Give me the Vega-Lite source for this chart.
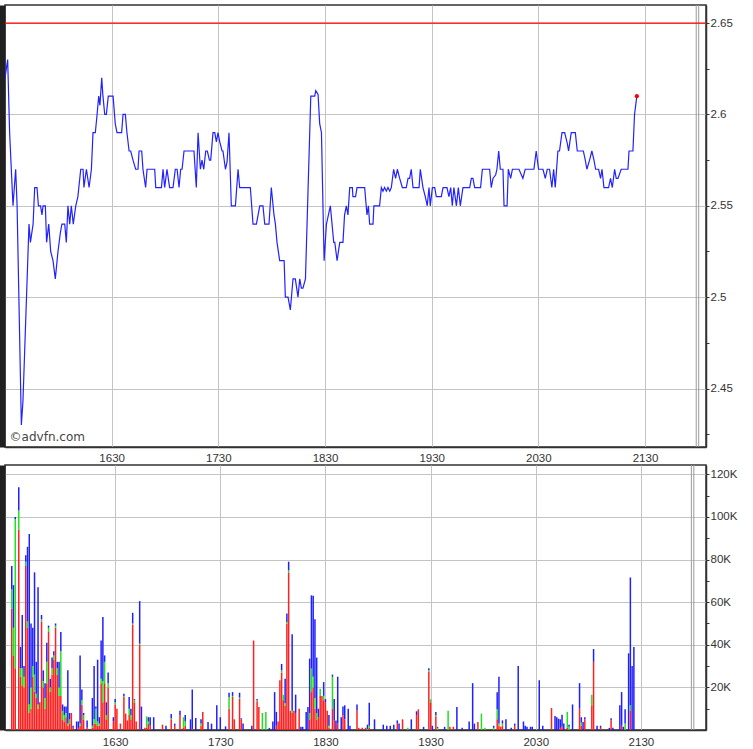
{
  "$schema": "https://vega.github.io/schema/vega-lite/v6.json",
  "background": "white",
  "padding": {"left": 0, "top": 3, "right": 0, "bottom": 0},
  "autosize": {"type": "pad"},
  "bounds": "flush",
  "spacing": 18,
  "config": {
    "view": {"stroke": "#333333", "strokeWidth": 1.5},
    "axis": {"labelFont": "Liberation Sans", "labelFontSize": 11.5, "labelColor": "#333333", "gridColor": "#c4c4c4", "domainColor": "#333333", "domainWidth": 1.5, "tickColor": "#333333", "title": null}
  },
  "datasets": {
    "price": [
      {"t":930.0,"p":2.62},{"t":931.5,"p":2.63},{"t":932.6,"p":2.59},{"t":934.5,"p":2.55},{"t":936.0,"p":2.57},{"t":936.8,"p":2.55},{"t":939.2,"p":2.43},{"t":940.1,"p":2.443},{"t":943.5,"p":2.54},{"t":944.3,"p":2.53},{"t":945.8,"p":2.54},{"t":946.7,"p":2.56},{"t":948.0,"p":2.56},{"t":948.8,"p":2.55},{"t":950.0,"p":2.55},{"t":950.8,"p":2.545},{"t":951.4,"p":2.55},{"t":952.7,"p":2.55},{"t":953.4,"p":2.53},{"t":954.6,"p":2.54},{"t":955.7,"p":2.525},{"t":957.0,"p":2.52},{"t":958.3,"p":2.51},{"t":959.8,"p":2.525},{"t":961.1,"p":2.535},{"t":962.0,"p":2.54},{"t":963.6,"p":2.54},{"t":964.5,"p":2.53},{"t":965.4,"p":2.55},{"t":966.4,"p":2.54},{"t":967.3,"p":2.55},{"t":968.4,"p":2.54},{"t":969.8,"p":2.55},{"t":971.0,"p":2.555},{"t":972.6,"p":2.57},{"t":973.9,"p":2.57},{"t":974.4,"p":2.56},{"t":975.8,"p":2.57},{"t":977.3,"p":2.56},{"t":978.6,"p":2.57},{"t":979.5,"p":2.59},{"t":980.8,"p":2.59},{"t":981.8,"p":2.6},{"t":982.7,"p":2.61},{"t":983.4,"p":2.605},{"t":984.4,"p":2.62},{"t":985.1,"p":2.61},{"t":986.1,"p":2.6},{"t":987.0,"p":2.6},{"t":988.1,"p":2.61},{"t":990.8,"p":2.61},{"t":992.0,"p":2.595},{"t":993.0,"p":2.59},{"t":995.6,"p":2.59},{"t":996.4,"p":2.6},{"t":997.7,"p":2.6},{"t":998.6,"p":2.59},{"t":999.8,"p":2.58},{"t":1000.7,"p":2.58},{"t":1002.0,"p":2.575},{"t":1003.5,"p":2.57},{"t":1004.8,"p":2.57},{"t":1005.4,"p":2.58},{"t":1006.9,"p":2.58},{"t":1007.6,"p":2.57},{"t":1009.1,"p":2.56},{"t":1009.9,"p":2.57},{"t":1014.2,"p":2.57},{"t":1014.8,"p":2.56},{"t":1018.0,"p":2.56},{"t":1018.9,"p":2.57},{"t":1019.8,"p":2.56},{"t":1021.1,"p":2.57},{"t":1022.6,"p":2.56},{"t":1024.5,"p":2.56},
      {"t":1025.8,"p":2.57},{"t":1026.8,"p":2.57},{"t":1027.9,"p":2.56},{"t":1028.8,"p":2.57},{"t":1029.6,"p":2.57},{"t":1030.7,"p":2.58},{"t":1036.3,"p":2.58},{"t":1037.6,"p":2.56},{"t":1038.6,"p":2.59},{"t":1039.9,"p":2.57},{"t":1040.8,"p":2.575},{"t":1041.8,"p":2.57},{"t":1042.9,"p":2.58},{"t":1043.8,"p":2.58},{"t":1045.0,"p":2.575},{"t":1045.7,"p":2.575},{"t":1047.0,"p":2.59},{"t":1048.0,"p":2.59},{"t":1048.9,"p":2.585},{"t":1049.8,"p":2.59},{"t":1050.8,"p":2.585},{"t":1052.1,"p":2.58},{"t":1052.6,"p":2.58},{"t":1054.0,"p":2.57},{"t":1054.9,"p":2.574},{"t":1056.0,"p":2.59},{"t":1057.3,"p":2.55},{"t":1059.6,"p":2.55},{"t":1061.1,"p":2.57},{"t":1062.0,"p":2.56},{"t":1068.0,"p":2.56},{"t":1069.5,"p":2.54},{"t":1071.4,"p":2.54},{"t":1073.3,"p":2.55},{"t":1075.1,"p":2.55},{"t":1076.1,"p":2.54},{"t":1078.5,"p":2.54},{"t":1079.8,"p":2.56},{"t":1081.3,"p":2.545},{"t":1082.1,"p":2.54},{"t":1083.0,"p":2.53},{"t":1084.5,"p":2.52},{"t":1087.0,"p":2.52},{"t":1087.7,"p":2.5},{"t":1089.2,"p":2.5},{"t":1090.5,"p":2.493},{"t":1092.0,"p":2.51},{"t":1093.3,"p":2.51},{"t":1094.8,"p":2.5},{"t":1095.8,"p":2.51},{"t":1096.7,"p":2.505},{"t":1097.6,"p":2.505},{"t":1099.0,"p":2.51},{"t":1102.0,"p":2.61},{"t":1104.2,"p":2.61},{"t":1104.8,"p":2.613},{"t":1106.1,"p":2.611},{"t":1107.0,"p":2.595},{"t":1108.0,"p":2.59},{"t":1109.5,"p":2.52},{"t":1110.8,"p":2.54},{"t":1113.0,"p":2.55},{"t":1114.9,"p":2.53},{"t":1115.5,"p":2.53},{"t":1116.8,"p":2.52},{"t":1118.3,"p":2.53},{"t":1120.1,"p":2.53},
      {"t":1121.0,"p":2.545},{"t":1122.0,"p":2.55},{"t":1122.9,"p":2.545},{"t":1123.9,"p":2.56},{"t":1125.4,"p":2.56},{"t":1125.7,"p":2.555},{"t":1127.2,"p":2.555},{"t":1128.0,"p":2.56},{"t":1132.3,"p":2.56},{"t":1133.6,"p":2.545},{"t":1134.4,"p":2.55},{"t":1135.1,"p":2.54},{"t":1137.0,"p":2.54},{"t":1137.5,"p":2.55},{"t":1140.7,"p":2.55},{"t":1141.7,"p":2.56},{"t":1142.6,"p":2.558},{"t":1143.5,"p":2.56},{"t":1144.5,"p":2.558},{"t":1145.4,"p":2.56},{"t":1146.4,"p":2.558},{"t":1147.3,"p":2.56},{"t":1148.6,"p":2.57},{"t":1149.7,"p":2.565},{"t":1150.7,"p":2.57},{"t":1152.0,"p":2.565},{"t":1153.5,"p":2.56},{"t":1155.7,"p":2.56},{"t":1156.7,"p":2.565},{"t":1157.6,"p":2.565},{"t":1158.5,"p":2.57},{"t":1159.5,"p":2.56},{"t":1160.4,"p":2.56},{"t":1162.9,"p":2.56},{"t":1163.6,"p":2.57},{"t":1165.1,"p":2.56},{"t":1166.4,"p":2.555},{"t":1167.5,"p":2.55},{"t":1168.5,"p":2.56},{"t":1169.2,"p":2.55},{"t":1170.4,"p":2.56},{"t":1171.7,"p":2.56},{"t":1172.6,"p":2.555},{"t":1175.4,"p":2.555},{"t":1176.4,"p":2.56},{"t":1178.6,"p":2.56},{"t":1179.7,"p":2.555},{"t":1180.7,"p":2.56},{"t":1181.6,"p":2.55},{"t":1182.5,"p":2.56},{"t":1183.9,"p":2.55},{"t":1185.0,"p":2.56},{"t":1186.1,"p":2.55},{"t":1187.6,"p":2.56},{"t":1191.4,"p":2.56},{"t":1192.3,"p":2.565},{"t":1193.2,"p":2.565},{"t":1194.2,"p":2.56},{"t":1197.5,"p":2.56},{"t":1198.5,"p":2.57},{"t":1202.6,"p":2.57},{"t":1203.5,"p":2.56},{"t":1204.5,"p":2.565},{"t":1206.0,"p":2.567},{"t":1206.7,"p":2.57},{"t":1207.7,"p":2.58},{"t":1208.6,"p":2.57},{"t":1210.1,"p":2.57},{"t":1210.7,"p":2.55},{"t":1212.4,"p":2.55},{"t":1213.1,"p":2.57},{"t":1214.4,"p":2.565},{"t":1215.4,"p":2.57},{"t":1219.1,"p":2.57},
      {"t":1221.3,"p":2.565},{"t":1222.6,"p":2.57},{"t":1227.5,"p":2.57},{"t":1228.8,"p":2.58},{"t":1230.1,"p":2.57},{"t":1232.6,"p":2.57},{"t":1233.9,"p":2.565},{"t":1235.0,"p":2.57},{"t":1236.3,"p":2.57},{"t":1237.6,"p":2.56},{"t":1238.6,"p":2.57},{"t":1239.5,"p":2.56},{"t":1241.0,"p":2.58},{"t":1241.9,"p":2.58},{"t":1243.3,"p":2.59},{"t":1244.8,"p":2.59},{"t":1246.3,"p":2.584},{"t":1247.0,"p":2.58},{"t":1248.5,"p":2.59},{"t":1250.8,"p":2.59},{"t":1251.9,"p":2.58},{"t":1255.3,"p":2.58},{"t":1256.4,"p":2.575},{"t":1257.3,"p":2.57},{"t":1258.8,"p":2.575},{"t":1260.1,"p":2.58},{"t":1261.3,"p":2.575},{"t":1262.2,"p":2.57},{"t":1263.9,"p":2.57},{"t":1265.0,"p":2.565},{"t":1265.8,"p":2.57},{"t":1266.9,"p":2.56},{"t":1269.5,"p":2.56},{"t":1270.6,"p":2.565},{"t":1271.6,"p":2.56},{"t":1272.9,"p":2.57},{"t":1273.8,"p":2.565},{"t":1274.8,"p":2.565},{"t":1276.6,"p":2.57},{"t":1280.4,"p":2.57},{"t":1281.0,"p":2.58},{"t":1283.2,"p":2.58},{"t":1284.1,"p":2.6},{"t":1285.4,"p":2.61}
    ],
    "vol": [
      {"t":931,"r":57,"g":9,"b":11},{"t":932,"r":35,"g":13,"b":20},{"t":933,"r":29,"g":70,"b":1},{"t":935,"r":94,"g":9,"b":11},{"t":936,"r":25,"g":4,"b":10},{"t":937,"r":21,"g":8,"b":25},{"t":938,"r":20,"g":5,"b":5},{"t":939,"r":77,"g":2,"b":3},{"t":940,"r":48,"g":3,"b":35},{"t":941,"r":8,"g":4,"b":80},{"t":942,"r":10,"g":10,"b":30},{"t":943,"r":25,"g":5,"b":18},{"t":944,"r":18,"g":8,"b":48},{"t":945,"r":15,"g":2,"b":15},{"t":946,"r":10,"g":2,"b":55},{"t":947,"r":13,"g":0,"b":0},{"t":948,"r":51,"g":1,"b":2},{"t":949,"r":20,"g":3,"b":5},{"t":950,"r":10,"g":5,"b":7},{"t":951,"r":22,"g":10,"b":9},{"t":952,"r":46,"g":2,"b":1},{"t":953,"r":18,"g":2,"b":4},{"t":954,"r":26,"g":3,"b":5},{"t":955,"r":33,"g":2,"b":2},{"t":956,"r":48,"g":1,"b":1},{"t":957,"r":26,"g":3,"b":3},{"t":958,"r":16,"g":4,"b":12},{"t":959,"r":16,"g":21,"b":9},{"t":960,"r":5,"g":4,"b":3},{"t":961,"r":4,"g":3,"b":4},{"t":962,"r":6,"g":2,"b":3},{"t":963,"r":2,"g":1,"b":25},{"t":964,"r":3,"g":2,"b":3},{"t":965,"r":8,"g":0,"b":0},{"t":966,"r":1,"g":0,"b":1},{"t":968,"r":0,"g":0,"b":4},{"t":969,"r":1,"g":0,"b":3},{"t":970,"r":2,"g":1,"b":32},{"t":971,"r":12,"g":2,"b":5},{"t":972,"r":5,"g":2,"b":1},{"t":974,"r":1,"g":0,"b":3.5},{"t":977,"r":1,"g":1,"b":13},{"t":978,"r":3,"g":2,"b":25},{"t":979,"r":3,"g":7,"b":1},{"t":980,"r":2,"g":2,"b":29},{"t":981,"r":2,"g":1,"b":3},{"t":982,"r":22,"g":2,"b":18},{"t":983,"r":13,"g":10,"b":30},{"t":984,"r":22,"g":10,"b":3},{"t":985,"r":5,"g":2,"b":6},{"t":986,"r":20,"g":2,"b":5},{"t":989,"r":4,"g":0,"b":2},{"t":990,"r":12,"g":1,"b":1.5},{"t":991,"r":10,"g":0,"b":0},{"t":993,"r":3,"g":0,"b":0},{"t":995,"r":15.5,"g":0.5,"b":1},{"t":996,"r":7.7,"g":0,"b":0},{"t":997,"r":4.5,"g":0,"b":0},{"t":998,"r":7,"g":3,"b":5.5},{"t":999,"r":5,"g":2,"b":3},{"t":1000,"r":49.5,"g":0.5,"b":5},{"t":1001,"r":13,"g":1,"b":0.5},{"t":1002,"r":4,"g":0,"b":0},{"t":1004,"r":40,"g":0.5,"b":20},{"t":1005,"r":0,"g":0,"b":11},{"t":1007,"r":1,"g":0,"b":0},{"t":1008,"r":1,"g":5.4,"b":0},{"t":1009,"r":3,"g":1,"b":2},{"t":1010,"r":2,"g":0,"b":4},{"t":1012,"r":0,"g":0,"b":6},{"t":1017,"r":2.5,"g":0,"b":0},{"t":1019,"r":0,"g":0,"b":2},{"t":1022,"r":5,"g":0.5,"b":2},{"t":1024,"r":2,"g":0,"b":1},{"t":1027,"r":7,"g":0,"b":2},{"t":1029,"r":1,"g":5,"b":0},{"t":1030,"r":2,"g":2,"b":3},{"t":1033,"r":0,"g":0,"b":5},{"t":1034,"r":0.5,"g":0,"b":18.5},{"t":1036,"r":0,"g":0,"b":5.6},{"t":1039,"r":2,"g":1,"b":2},{"t":1040,"r":8.5,"g":0,"b":0},{"t":1043,"r":0,"g":0,"b":3.8},{"t":1045,"r":0,"g":0,"b":3},{"t":1048,"r":0,"g":0,"b":11.6},{"t":1050,"r":0,"g":0,"b":6},{"t":1053,"r":0,"g":0,"b":1.7},{"t":1055,"r":10,"g":5.5,"b":2},{"t":1057,"r":15.5,"g":0.5,"b":1.8},{"t":1058,"r":5,"g":0,"b":0},{"t":1061,"r":14.7,"g":0.5,"b":2.3},{"t":1062,"r":5,"g":0,"b":0.5},{"t":1063,"r":0,"g":0,"b":3},{"t":1068,"r":0,"g":0,"b":2},{"t":1069,"r":42,"g":0,"b":0},
      {"t":1071,"r":13.5,"g":0.5,"b":0.5},{"t":1072,"r":10.8,"g":0,"b":0},{"t":1074,"r":0,"g":8,"b":0},{"t":1076,"r":0,"g":8.5,"b":0},{"t":1078,"r":0,"g":0,"b":1},{"t":1080,"r":0,"g":0,"b":4},{"t":1081,"r":0,"g":0,"b":17.8},{"t":1082,"r":2,"g":0,"b":6.5},{"t":1083,"r":4,"g":0,"b":0},{"t":1084,"r":23.3,"g":0,"b":0},{"t":1085,"r":27,"g":1,"b":3},{"t":1086,"r":14,"g":2.5,"b":0},{"t":1087,"r":11.5,"g":1,"b":11.5},{"t":1088,"r":50,"g":0.7,"b":4},{"t":1089,"r":74,"g":1,"b":4},{"t":1090,"r":9,"g":0,"b":0},{"t":1091,"r":8,"g":1,"b":36},{"t":1092,"r":9,"g":0,"b":0},{"t":1093,"r":8,"g":0,"b":8.6},{"t":1095,"r":10,"g":0,"b":0},{"t":1096,"r":0,"g":0,"b":1.5},{"t":1097,"r":0,"g":0,"b":1.5},{"t":1099,"r":0,"g":0,"b":8.5},{"t":1100,"r":0,"g":0,"b":10.8},{"t":1101,"r":5,"g":3,"b":25.5},{"t":1102,"r":17.8,"g":11,"b":34.4},{"t":1103,"r":20,"g":5,"b":38},{"t":1104,"r":10,"g":5,"b":37},{"t":1105,"r":5,"g":3,"b":26},{"t":1106,"r":6,"g":0,"b":4},{"t":1107,"r":16,"g":3.4,"b":0},{"t":1108,"r":16,"g":0,"b":0},{"t":1109,"r":14,"g":2,"b":6.5},{"t":1110,"r":13,"g":0,"b":1.5},{"t":1111,"r":9,"g":0,"b":0},{"t":1112,"r":1,"g":1,"b":5},{"t":1114,"r":10,"g":15,"b":1},{"t":1115,"r":4.5,"g":0,"b":10},{"t":1116,"r":0,"g":0,"b":4.5},{"t":1117,"r":3,"g":0,"b":22},{"t":1119,"r":0,"g":0,"b":6},{"t":1120,"r":7,"g":0,"b":4},{"t":1121,"r":5,"g":0,"b":6.6},{"t":1123,"r":0,"g":0,"b":10},{"t":1124,"r":0,"g":0,"b":2},{"t":1128,"r":9,"g":0,"b":3},{"t":1129,"r":1,"g":0,"b":0},{"t":1131,"r":1,"g":0,"b":0},{"t":1133,"r":1,"g":0,"b":0},{"t":1134,"r":0,"g":0.5,"b":2},{"t":1135,"r":1,"g":1,"b":10.8},{"t":1138,"r":0,"g":0,"b":5},{"t":1143,"r":0,"g":0,"b":2.5},{"t":1145,"r":0,"g":0,"b":2},{"t":1147,"r":0,"g":0,"b":2},{"t":1149,"r":0,"g":0,"b":2.5},{"t":1151,"r":3,"g":0,"b":1.5},{"t":1152,"r":0,"g":0,"b":3},{"t":1154,"r":5,"g":0,"b":0},{"t":1157,"r":0,"g":1,"b":0},{"t":1159,"r":0,"g":0,"b":5},{"t":1162,"r":7,"g":0,"b":1.8},{"t":1163,"r":9.7,"g":0,"b":0},{"t":1166,"r":0,"g":0,"b":1.5},{"t":1169,"r":27.5,"g":0.5,"b":1},{"t":1170,"r":13,"g":1.4,"b":0},{"t":1171,"r":0,"g":0,"b":2},{"t":1173,"r":6.5,"g":0.5,"b":1.5},{"t":1174,"r":0,"g":1,"b":0.5},{"t":1178,"r":0,"g":0,"b":1.5},{"t":1180,"r":0,"g":9,"b":0},{"t":1181,"r":1.5,"g":0,"b":0},{"t":1183,"r":1.5,"g":0,"b":0},{"t":1185,"r":0,"g":0,"b":10.8},{"t":1188,"r":0,"g":0,"b":1},{"t":1192,"r":0,"g":0,"b":4},{"t":1194,"r":0,"g":0,"b":22},{"t":1195,"r":0,"g":0,"b":3},{"t":1197,"r":3.8,"g":0,"b":0},{"t":1199,"r":0,"g":7.7,"b":0},{"t":1201,"r":0,"g":1,"b":0},
      {"t":1206,"r":0,"g":1,"b":1},{"t":1208,"r":5,"g":4.7,"b":8},{"t":1209,"r":2,"g":1,"b":22},{"t":1210,"r":1.5,"g":0,"b":0},{"t":1211,"r":2,"g":1,"b":1.5},{"t":1213,"r":0,"g":0,"b":5},{"t":1216,"r":0,"g":0,"b":1},{"t":1218,"r":2,"g":0,"b":1},{"t":1220,"r":0,"g":0,"b":30},{"t":1223,"r":0,"g":0,"b":4},{"t":1224,"r":0,"g":0,"b":2},{"t":1225,"r":0,"g":0,"b":1.5},{"t":1227,"r":0,"g":0,"b":1.5},{"t":1228,"r":0,"g":0,"b":1.5},{"t":1232,"r":0,"g":0,"b":23.3},{"t":1234,"r":0,"g":0,"b":2},{"t":1239,"r":10.3,"g":0,"b":0},{"t":1241,"r":0,"g":0,"b":6.6},{"t":1242,"r":0,"g":0,"b":6},{"t":1243,"r":0,"g":0,"b":5.3},{"t":1244,"r":1,"g":0,"b":4},{"t":1245,"r":1.5,"g":0,"b":5.7},{"t":1246,"r":0,"g":0,"b":3},{"t":1248,"r":1,"g":7.5,"b":0},{"t":1249,"r":0,"g":1.5,"b":1},{"t":1251,"r":0,"g":0,"b":12},{"t":1255,"r":10,"g":0,"b":12},{"t":1256,"r":2,"g":1.5,"b":2.5},{"t":1257,"r":0,"g":0,"b":3.8},{"t":1258,"r":5,"g":0,"b":1},{"t":1262,"r":11.6,"g":5,"b":0},{"t":1263,"r":32,"g":0,"b":6},{"t":1265,"r":0,"g":0,"b":2},{"t":1267,"r":1,"g":0,"b":1},{"t":1272,"r":0,"g":0,"b":1},{"t":1273,"r":4.5,"g":0,"b":1},{"t":1274,"r":0,"g":0,"b":1},{"t":1278,"r":0,"g":0,"b":11.6},{"t":1279,"r":2,"g":0,"b":15.8},{"t":1280,"r":0,"g":0,"b":1.5},{"t":1281,"r":0,"g":3,"b":6.7},{"t":1283,"r":0,"g":0,"b":36},{"t":1284,"r":9.2,"g":2.4,"b":60},{"t":1285,"r":0,"g":0,"b":30},{"t":1286,"r":0,"g":0,"b":39}
    ],
    "session": [{"t":1318.8},{"t":1320.2}],
    "ref": [{"p":2.65}],
    "last": [{"t":1285.4,"p":2.61}],
    "mark": [{"t":932.6,"p":2.4237,"label":"©advfn.com"}]
  },
  "vconcat": [
    {
      "width": 701,
      "height": 442,
      "resolve": {"axis": {"y": "independent"}},
      "layer": [
        {
          "data": {"name": "session"},
          "mark": {"type": "rule", "color": "#9a9a9a", "strokeWidth": 1},
          "encoding": {
            "x": {"field": "t", "type": "quantitative", "scale": {"domain": [930, 1324.3], "nice": false, "zero": false},
              "axis": {"orient": "bottom", "values": [990, 1050, 1110, 1170, 1230, 1290], "labelExpr": "'' + (floor(datum.value/60)*100 + datum.value%60)", "grid": true, "ticks": false, "labelPadding": 5}}
          }
        },
        {
          "data": {"name": "price"},
          "mark": {"type": "line", "color": "#2222ff", "strokeWidth": 1.2, "clip": true},
          "encoding": {
            "x": {"field": "t", "type": "quantitative"},
            "y": {"field": "p", "type": "quantitative", "scale": {"domain": [2.418, 2.6599], "nice": false, "zero": false},
              "axis": {"orient": "right", "values": [2.425, 2.45, 2.475, 2.5, 2.525, 2.55, 2.575, 2.6, 2.625, 2.65],
                "labelExpr": "round(datum.value*1000) % 50 == 0 ? format(datum.value, '~g') : ''",
                "grid": true, "gridOpacity": {"condition": {"test": "round(datum.value*1000) % 50 == 0", "value": 1}, "value": 0},
                "tickSize": 3, "labelPadding": 1}}
          }
        },
        {
          "data": {"name": "price"},
          "mark": {"type": "line", "opacity": 0},
          "encoding": {
            "x": {"field": "t", "type": "quantitative"},
            "y": {"field": "p", "type": "quantitative",
              "axis": {"orient": "left", "labels": false, "ticks": false, "grid": false, "domainWidth": 7, "domainColor": "#202020", "offset": 3.5}}
          }
        },
        {
          "data": {"name": "ref"},
          "mark": {"type": "rule", "color": "#ff0000", "strokeWidth": 1.2},
          "encoding": {"y": {"field": "p", "type": "quantitative", "axis": null}}
        },
        {
          "data": {"name": "last"},
          "mark": {"type": "circle", "color": "#ff0000", "size": 18, "opacity": 1},
          "encoding": {"x": {"field": "t", "type": "quantitative"}, "y": {"field": "p", "type": "quantitative", "axis": null}}
        },
        {
          "data": {"name": "mark"},
          "mark": {"type": "text", "align": "left", "baseline": "middle", "font": "DejaVu Sans", "fontSize": 12, "color": "#444444"},
          "encoding": {"x": {"field": "t", "type": "quantitative"}, "y": {"field": "p", "type": "quantitative", "axis": null}, "text": {"field": "label"}}
        }
      ]
    },
    {
      "width": 701,
      "height": 265,
      "resolve": {"axis": {"y": "independent"}},
      "layer": [
        {
          "data": {"name": "session"},
          "mark": {"type": "rule", "color": "#9a9a9a", "strokeWidth": 1},
          "encoding": {
            "x": {"field": "t", "type": "quantitative", "scale": {"domain": [930, 1324.3], "nice": false, "zero": false},
              "axis": {"orient": "bottom", "values": [990, 1050, 1110, 1170, 1230, 1290], "labelExpr": "'' + (floor(datum.value/60)*100 + datum.value%60)", "grid": true, "ticks": false, "labelPadding": 6}}
          }
        },
        {
          "data": {"name": "vol"},
          "transform": [{"fold": ["r", "g", "b"], "as": ["k", "v"]}],
          "mark": {"type": "bar", "size": 1.5},
          "encoding": {
            "x": {"field": "t", "type": "quantitative"},
            "y": {"field": "v", "type": "quantitative", "stack": "zero", "scale": {"domain": [0, 124.4], "nice": false},
              "axis": {"orient": "right", "values": [10, 20, 30, 40, 50, 60, 70, 80, 90, 100, 110, 120],
                "labelExpr": "datum.value % 20 == 0 ? datum.value + 'K' : ''",
                "grid": true, "gridOpacity": {"condition": {"test": "datum.value % 20 == 0", "value": 1}, "value": 0},
                "tickSize": 3, "labelPadding": 1}},
            "color": {"field": "k", "type": "nominal", "scale": {"domain": ["r", "g", "b"], "range": ["#ff2020", "#20e020", "#2020ff"]}, "legend": null},
            "order": {"field": "k", "sort": "descending"}
          }
        },
        {
          "data": {"name": "vol"},
          "mark": {"type": "rule", "opacity": 0},
          "encoding": {
            "y": {"field": "r", "type": "quantitative",
              "axis": {"orient": "left", "labels": false, "ticks": false, "grid": false, "domainWidth": 7, "domainColor": "#202020", "offset": 3.5}}
          }
        }
      ]
    }
  ]
}
